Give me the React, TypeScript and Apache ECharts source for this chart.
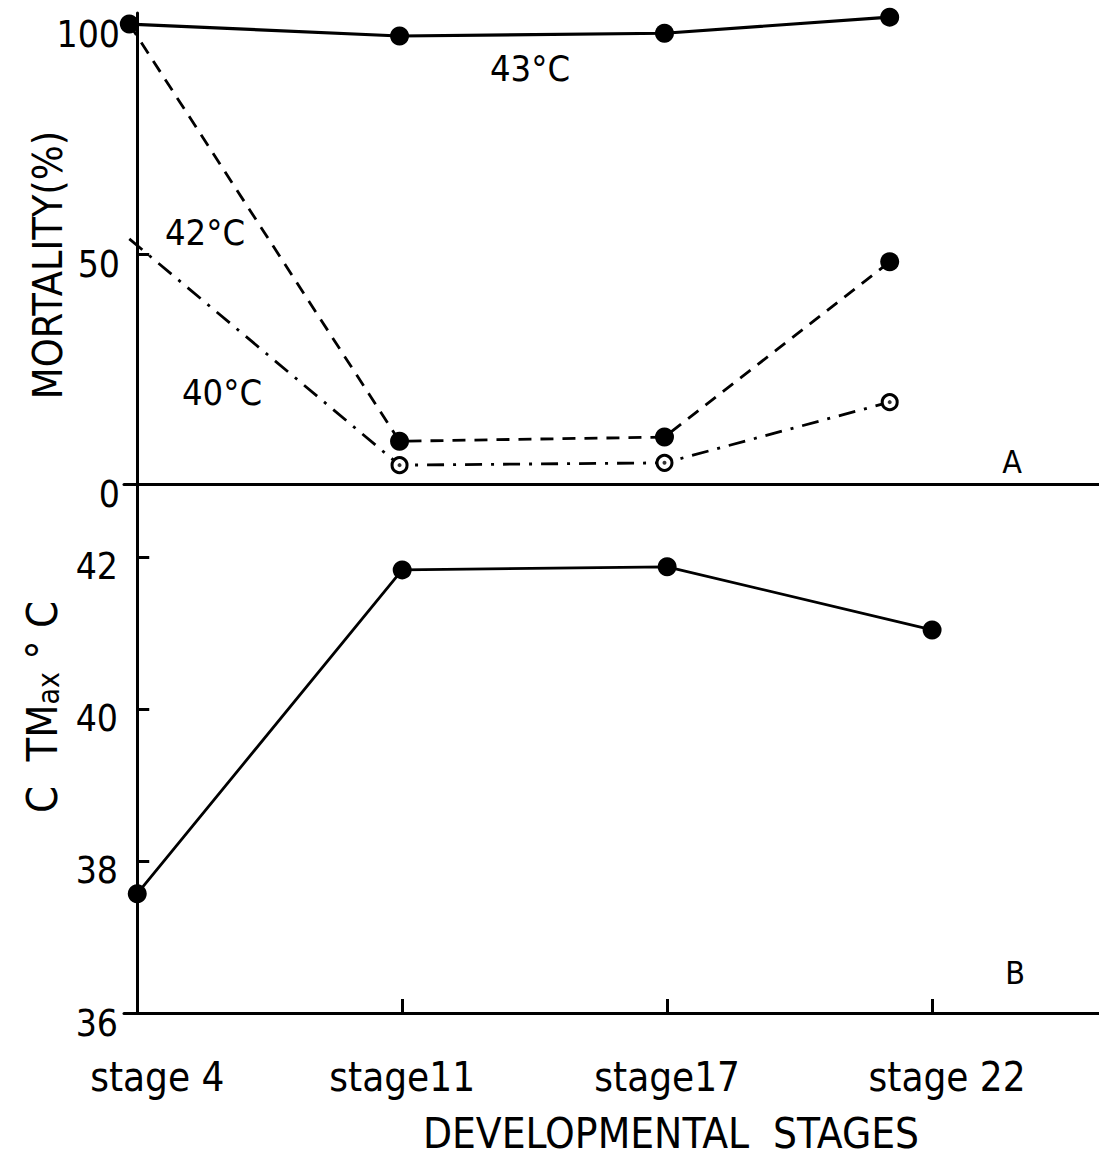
import React, { useEffect, useRef } from "react";
import * as echarts from "echarts";

// Developmental stages along the shared horizontal axis
const stageLabels = ["stage 4", "stage11", "stage17", "stage 22"];
const stagePos = [0, 1, 2, 3];
// Positions at which the mortality points were plotted in panel A
const mortalityPos = [-0.03, 0.99, 1.99, 2.84];

// Panel A: mortality (%) at three test temperatures
const mortality43 = [100, 97.4, 98.0, 101.5];
const mortality42 = [100, 9.3, 10.2, 48.3];
const mortality40 = [53.3, 4.1, 4.6, 17.8];

// Panel B: critical thermal maximum (°C)
const ctmax = [37.57, 41.83, 41.87, 41.04];

// Tick values
const mortalityTicks = [0, 50, 100];
const ctmaxTicks = [36, 38, 40, 42];

const FONT = "'DejaVu Sans Condensed', 'DejaVu Sans', sans-serif";
const INK = "#000";

const pairs = (xs: number[], ys: number[]) => ys.map((y, i) => [xs[i], y]);

export default function App() {
  const ref = useRef<HTMLDivElement>(null);

  useEffect(() => {
    document.body.style.margin = "0";
    const chart = echarts.init(ref.current!, null, { renderer: "svg" });

    const axisLine = { show: true, lineStyle: { color: INK, width: 3 } };
    const labelStyle = { color: INK, fontFamily: FONT, fontSize: 37 };

    const firstHidden = (vals: number[][]) =>
      vals.map((p, i) => (i === 0 ? { value: p, symbol: "none" } : { value: p }));

    // stage labels sit slightly right of their ticks at both ends
    const stageRich = {
      s0: { padding: [0, 0, 0, 40] },
      s1: { padding: [0, 0, 0, 0] },
      s2: { padding: [0, 0, 0, 0] },
      s3: { padding: [0, 0, 0, 30] },
    };

    chart.setOption({
      animation: false,
      backgroundColor: "#fff",
      grid: [
        { left: 124, right: 0, top: 13, height: 471 },
        { left: 124, right: 0, top: 484, height: 529 },
      ],
      xAxis: [
        {
          type: "value",
          gridIndex: 0,
          min: -0.05,
          max: 3.63,
          axisLine: { ...axisLine, onZero: false },
          axisTick: { show: false },
          axisLabel: { show: false },
          splitLine: { show: false },
        },
        {
          type: "value",
          gridIndex: 1,
          min: -0.05,
          max: 3.63,
          axisLine: { ...axisLine, onZero: false },
          axisTick: {
            show: true,
            inside: true,
            length: 14,
            lineStyle: { color: INK, width: 3 },
            customValues: stagePos,
          },
          axisLabel: {
            ...labelStyle,
            fontSize: 40,
            margin: 44,
            customValues: stagePos,
            rich: stageRich,
            formatter: (v: number) => {
              const i = Math.round(v);
              return stageLabels[i] ? `{s${i}|${stageLabels[i]}}` : "";
            },
          },
          splitLine: { show: false },
        },
      ],
      yAxis: [
        {
          type: "value",
          gridIndex: 0,
          min: 0,
          max: 102.4,
          axisLine,
          axisTick: {
            show: true,
            inside: true,
            length: 12,
            lineStyle: { color: INK, width: 3 },
            customValues: [50],
          },
          axisLabel: {
            ...labelStyle,
            margin: 4,
            verticalAlign: "top",
            lineHeight: 20,
            customValues: mortalityTicks,
          },
          splitLine: { show: false },
        },
        {
          type: "value",
          gridIndex: 1,
          min: 36,
          max: 42.96,
          axisLine,
          axisTick: {
            show: true,
            inside: true,
            length: 12,
            lineStyle: { color: INK, width: 3 },
            customValues: [38, 40, 42],
          },
          axisLabel: {
            ...labelStyle,
            margin: 6,
            verticalAlign: "top",
            lineHeight: 20,
            customValues: ctmaxTicks,
          },
          splitLine: { show: false },
        },
      ],
      series: [
        {
          name: "43°C",
          type: "line",
          xAxisIndex: 0,
          yAxisIndex: 0,
          data: pairs(mortalityPos, mortality43),
          symbol: "circle",
          symbolSize: 19,
          itemStyle: { color: INK },
          lineStyle: { color: INK, width: 3.2, type: "solid" },
          z: 5,
        },
        {
          name: "42°C",
          type: "line",
          xAxisIndex: 0,
          yAxisIndex: 0,
          data: firstHidden(pairs(mortalityPos, mortality42)),
          symbol: "circle",
          symbolSize: 19,
          itemStyle: { color: INK },
          lineStyle: { color: INK, width: 2.8, type: [13, 9] },
          z: 4,
        },
        {
          name: "40°C",
          type: "line",
          xAxisIndex: 0,
          yAxisIndex: 0,
          data: firstHidden(pairs(mortalityPos, mortality40)),
          symbol: "circle",
          symbolSize: 15,
          itemStyle: { color: "#fff", borderColor: INK, borderWidth: 3 },
          lineStyle: { color: INK, width: 2.8, type: [17, 9, 3, 9] },
          z: 4,
        },
        {
          name: "40°C centre",
          type: "scatter",
          xAxisIndex: 0,
          yAxisIndex: 0,
          data: pairs(mortalityPos, mortality40).slice(1),
          symbol: "circle",
          symbolSize: 4,
          itemStyle: { color: INK },
          z: 6,
        },
        {
          name: "CTMax",
          type: "line",
          xAxisIndex: 1,
          yAxisIndex: 1,
          data: pairs(stagePos, ctmax),
          symbol: "circle",
          symbolSize: 19,
          itemStyle: { color: INK },
          lineStyle: { color: INK, width: 2.8 },
          z: 5,
        },
      ],
      graphic: [
        {
          type: "text",
          x: 48,
          y: 265,
          rotation: Math.PI / 2,
          style: {
            text: "MORTALITY(%)",
            font: `41px ${FONT}`,
            fill: INK,
            align: "center",
            verticalAlign: "middle",
          },
        },
        {
          type: "text",
          x: 42,
          y: 707,
          rotation: Math.PI / 2,
          style: {
            text: "{n|C  TM}{s|ax}{d| °}{n| C}",
            fill: INK,
            align: "center",
            verticalAlign: "middle",
            rich: {
              n: { font: `43px ${FONT}`, fill: INK, verticalAlign: "bottom" },
              s: { font: `30px ${FONT}`, fill: INK, verticalAlign: "bottom" },
              d: { font: `43px ${FONT}`, fill: INK, verticalAlign: "top" },
            },
          },
        },
        {
          type: "text",
          x: 530,
          y: 68,
          style: { text: "43°C", font: `36px ${FONT}`, fill: INK, align: "center", verticalAlign: "middle" },
        },
        {
          type: "text",
          x: 205,
          y: 232,
          style: { text: "42°C", font: `36px ${FONT}`, fill: INK, align: "center", verticalAlign: "middle" },
        },
        {
          type: "text",
          x: 222,
          y: 392,
          style: { text: "40°C", font: `36px ${FONT}`, fill: INK, align: "center", verticalAlign: "middle" },
        },
        {
          type: "text",
          x: 1012,
          y: 462,
          style: { text: "A", font: `32px ${FONT}`, fill: INK, align: "center", verticalAlign: "middle" },
        },
        {
          type: "text",
          x: 1015,
          y: 973,
          style: { text: "B", font: `32px ${FONT}`, fill: INK, align: "center", verticalAlign: "middle" },
        },
        {
          type: "text",
          x: 671,
          y: 1133,
          style: {
            text: "DEVELOPMENTAL  STAGES",
            font: `42px ${FONT}`,
            fill: INK,
            align: "center",
            verticalAlign: "middle",
          },
        },
      ],
    });

    return () => chart.dispose();
  }, []);

  return <div ref={ref} style={{ width: 1099, height: 1157 }} />;
}
